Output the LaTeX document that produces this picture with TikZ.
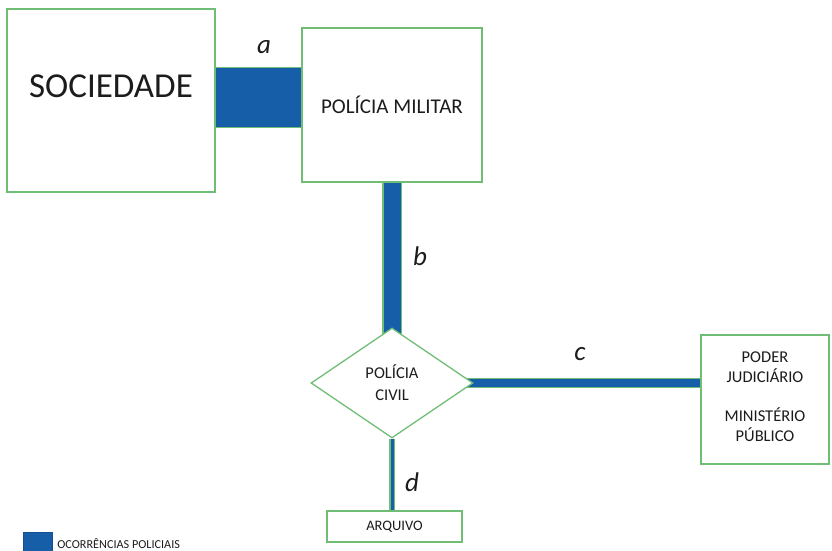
\documentclass[tikz,border=0pt]{standalone}
\usepackage{fontspec}
\setmainfont{Carlito}
\usetikzlibrary{shapes.geometric,backgrounds}
\definecolor{boxgreen}{RGB}{112,190,118}
\definecolor{occblue}{RGB}{22,94,168}
\definecolor{inkgray}{RGB}{28,28,30}

\begin{document}
\begin{tikzpicture}[x=1pt,y=-1pt,
    box/.style={rectangle, draw=boxgreen, fill=white, line width=1.3pt, inner sep=0pt, text=inkgray},
    decision/.style={diamond, draw=boxgreen, fill=white, line width=1.3pt, inner sep=0pt, text=inkgray},
    link/.style={draw=boxgreen, line width=1.2pt, double=occblue},
    tag/.style={font=\fontsize{27}{27}\selectfont\itshape, text=inkgray}
  ]
  \useasboundingbox (0,0) rectangle (832,551);

  % Boxes
  \node[box, minimum width=208pt, minimum height=183pt, text height=23pt, text depth=30pt,
        font=\fontsize{35}{35}\selectfont] (soc) at (111,100.5) {SOCIEDADE};
  \node[box, minimum width=180pt, minimum height=154pt,
        font=\fontsize{21}{21}\selectfont] (pm) at (392,105) {POLÍCIA MILITAR};
  \node[decision, minimum width=162pt, minimum height=110pt, align=center,
        font=\fontsize{16.5}{22}\selectfont] (pc) at (392,383) {POLÍCIA\\CIVIL};
  \node[box, minimum width=128pt, minimum height=129pt, align=center, text depth=6pt,
        font=\fontsize{16.5}{19.5}\selectfont] (jud) at (765,399.5) {PODER\\JUDICIÁRIO\\[20pt]MINISTÉRIO\\PÚBLICO};
  \node[box, minimum width=135pt, minimum height=31pt,
        font=\fontsize{14.5}{14.5}\selectfont] (arq) at (394.5,526.5) {ARQUIVO};

  % Flows
  \begin{scope}[on background layer]
    \draw[link, double distance=59pt] ([yshift=7.5pt]pm.west) -- ([yshift=7.5pt]pm.west -| soc.east);
    \draw[link, double distance=17pt] (pm.south) -- (pc.center);
    \draw[link, double distance=8pt] (pc.center) -- (pc.center -| jud.west);
    \draw[link, double distance=3pt] (pc.south) -- (pc.south |- arq.north);
  \end{scope}

  % Flow labels
  \node[tag] (la) at (264,47) {a};
  \node[tag] (lb) at (420,256) {b};
  \node[tag] (lc) at (580,354) {c};
  \node[tag] (ld) at (412,482) {d};

  % Legend
  \node[rectangle, fill=occblue, draw=occblue!85!black, minimum size=29pt, inner sep=0pt] (legbox) at (37.5,546.5) {};
  \node[anchor=west, inner sep=0pt, text=inkgray, font=\fontsize{12.2}{12.2}\selectfont] (legtxt) at ([xshift=5pt,yshift=3pt]legbox.east) {OCORRÊNCIAS POLICIAIS};
\end{tikzpicture}
\end{document}
